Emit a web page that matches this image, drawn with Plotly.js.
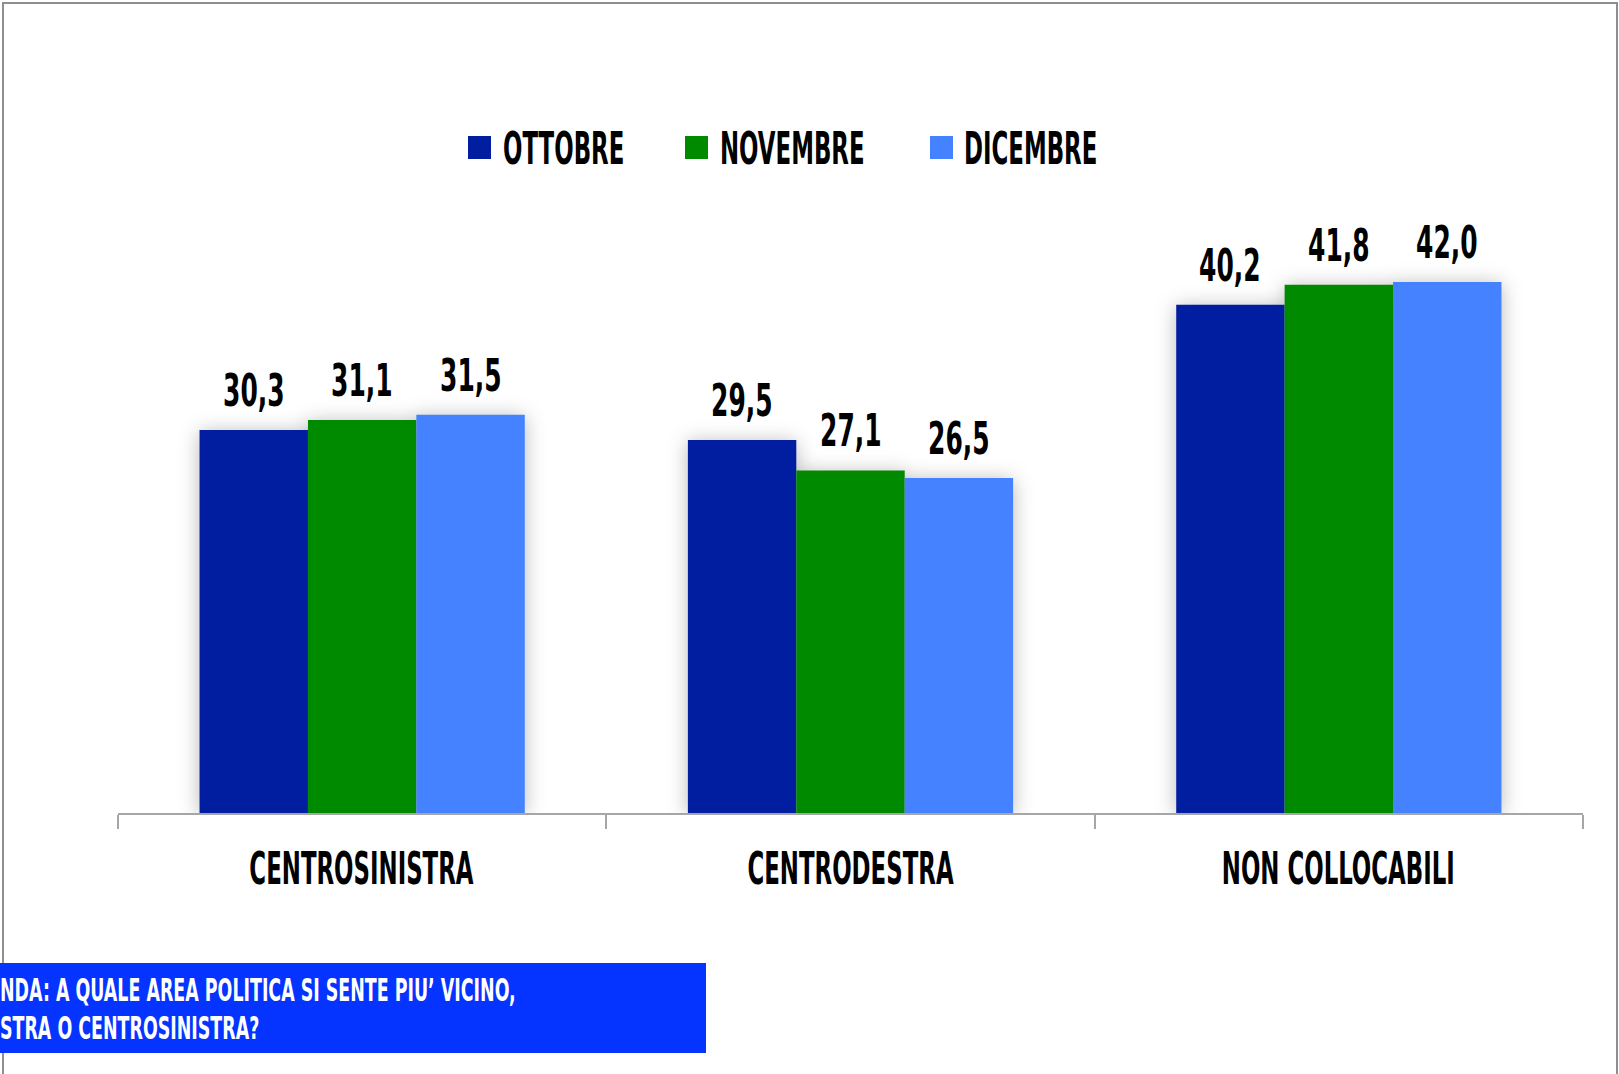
<!DOCTYPE html>
<html>
<head>
<meta charset="utf-8">
<script src="https://cdn.plot.ly/plotly-3.0.1.min.js"></script>
<style>
  html, body { margin: 0; padding: 0; background: #ffffff; overflow: hidden; }
  #frame { position: absolute; left: 2px; top: 2px; width: 1612px; height: 1200px; border: 2px solid #8f8f8f; }
  #chart { position: absolute; left: 0; top: 0; width: 1619px; height: 1074px; }
  #chart .barlayer { filter: drop-shadow(0px 2px 10px rgba(0,0,0,0.28)); }
</style>
</head>
<body>
<div id="frame"></div>
<div id="chart"></div>
<script>
// ---- data ----
const categories = ['CENTROSINISTRA', 'CENTRODESTRA', 'NON COLLOCABILI'];
const seriesNames = ['OTTOBRE', 'NOVEMBRE', 'DICEMBRE'];
const ottobre  = [30.3, 29.5, 40.2];
const novembre = [31.1, 27.1, 41.8];
const dicembre = [31.5, 26.5, 42.0];
const questionLines = ['NDA: A QUALE AREA POLITICA SI SENTE PIU\u2019 VICINO,', 'STRA O CENTROSINISTRA?'];

// ---- style ----
const FONT = '"DejaVu Sans Condensed", "DejaVu Sans", sans-serif';
const WEIGHT = 'bold';
const colors = ['#001E9F', '#008A00', '#4482FF'];
const allSeries = [ottobre, novembre, dicembre];
const bargap = 0.334;
const barW = (1 - bargap) / allSeries.length;

const fmt = v => v.toFixed(1).replace('.', ',');

const traces = allSeries.map((vals, j) => ({
  type: 'bar',
  name: seriesNames[j],
  x: categories,
  y: vals,
  marker: { color: colors[j], line: { width: 0 } },
  hoverinfo: 'skip',
  showlegend: false
}));

const annotations = [];
const condense = [];   // horizontal glyph factor per annotation
allSeries.forEach((vals, j) => {
  vals.forEach((v, i) => {
    annotations.push({
      xref: 'x', yref: 'y',
      x: i + (j - (allSeries.length - 1) / 2) * barW,
      y: v,
      text: fmt(v),
      showarrow: false,
      xanchor: 'center', yanchor: 'bottom',
      yshift: 12,
      font: { family: FONT, size: 44, weight: WEIGHT, color: '#000000' }
    });
    condense.push(0.63);
  });
});

// custom legend (pixel positions mapped to paper coords)
const L = 118, R = 36, T = 181, B = 261, W = 1619, H = 1074;
const PW = W - L - R, PH = H - T - B;
const px = x => (x - L) / PW;
const py = y => (H - B - y) / PH;

const legendPos = [
  { sq: 468, tx: 501 },
  { sq: 685, tx: 718 },
  { sq: 930, tx: 962 }
];
const shapes = [];
seriesNames.forEach((n, j) => {
  shapes.push({
    type: 'rect', xref: 'paper', yref: 'paper',
    x0: px(legendPos[j].sq), x1: px(legendPos[j].sq + 23),
    y0: py(159), y1: py(136),
    fillcolor: colors[j], line: { width: 0 }
  });
  annotations.push({
    xref: 'paper', yref: 'paper',
    x: px(legendPos[j].tx), y: py(149),
    xanchor: 'left', yanchor: 'middle', align: 'left',
    text: n, showarrow: false,
    font: { family: FONT, size: 45, weight: WEIGHT, color: '#000000' }
  });
  condense.push(0.565);
});

// question box
shapes.push({
  type: 'rect', xref: 'paper', yref: 'paper',
  x0: px(0), x1: px(706), y0: py(1053), y1: py(963),
  fillcolor: '#0533FF', line: { width: 0 }, layer: 'above'
});
const qY = [990, 1028];
questionLines.forEach((t, k) => {
  annotations.push({
    xref: 'paper', yref: 'paper',
    x: px(-2), y: py(qY[k]),
    xanchor: 'left', yanchor: 'middle', align: 'left',
    text: t, showarrow: false,
    font: { family: FONT, size: 32, weight: WEIGHT, color: '#ffffff' }
  });
  condense.push(null); // fitted to the first line's width below
});
const QUESTION_WIDTH = 516;

// category labels drawn as annotations under the axis (slot centres)
const CAT_CONDENSE = 0.565;
categories.forEach((c, i) => {
  annotations.push({
    xref: 'x', yref: 'paper',
    x: i, y: py(868),
    xanchor: 'center', yanchor: 'middle',
    text: c, showarrow: false,
    font: { family: FONT, size: 45, weight: WEIGHT, color: '#000000' }
  });
  condense.push(CAT_CONDENSE);
});

const layout = {
  width: W, height: H, autosize: false,
  margin: { l: L, r: R, t: T, b: B, pad: 0 },
  paper_bgcolor: 'rgba(0,0,0,0)',
  plot_bgcolor: 'rgba(0,0,0,0)',
  barmode: 'group',
  bargap: bargap,
  bargroupgap: 0,
  showlegend: false,
  font: { family: FONT, color: '#000000' },
  xaxis: {
    type: 'category',
    tickson: 'boundaries',
    ticks: 'outside', ticklen: 14, tickwidth: 2, tickcolor: '#a6a6a6',
    showline: true, linecolor: '#a6a6a6', linewidth: 2,
    showgrid: false, zeroline: false,
    showticklabels: false,
    fixedrange: true
  },
  yaxis: {
    range: [0, 50],
    visible: false,
    showgrid: false, zeroline: false,
    fixedrange: true
  },
  shapes: shapes,
  annotations: annotations
};

// condense glyphs horizontally (about the text anchor) to imitate the narrow typeface
function squeeze(el, k) {
  const ax = parseFloat(el.getAttribute('x')) || 0;
  el.setAttribute('transform', 'translate(' + ax + ',0) scale(' + k.toFixed(4) + ',1) translate(' + (-ax) + ',0)');
}
Plotly.newPlot('chart', traces, layout, { staticPlot: true, displayModeBar: false }).then(gd => {
  let qk = null;
  gd.querySelectorAll('g.annotation').forEach(g => {
    const idx = +g.getAttribute('data-index');
    const el = g.querySelector('text.annotation-text');
    if (!el) return;
    let k = condense[idx];
    if (k === null) {
      if (qk === null) qk = QUESTION_WIDTH / el.getComputedTextLength();
      k = qk;
    }
    squeeze(el, k);
  });
});
</script>
</body>
</html>
